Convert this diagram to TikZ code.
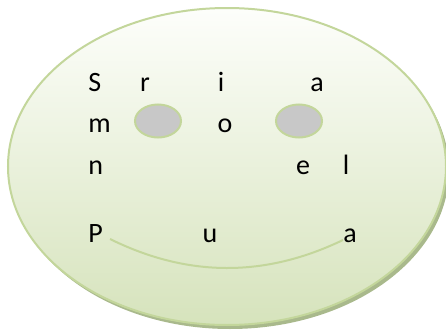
\documentclass[tikz,border=0pt]{standalone}
\usepackage{fontspec}
\setmainfont{Carlito}
\usepackage{tikz}
\usetikzlibrary{shapes.geometric, shadows, positioning}
\definecolor{facetop}{HTML}{FDFEFB}
\definecolor{facebottom}{HTML}{D6E3BC}
\definecolor{faceline}{HTML}{C3D69B}
\definecolor{faceshadow}{HTML}{A9B98C}
\definecolor{eyegray}{HTML}{C8C8C8}
\newcommand{\facefont}{\fontsize{21pt}{25pt}\selectfont}
\tikzstyle{face} = [ellipse, inner sep=0pt, minimum width=328.5pt, minimum height=237.75pt, draw=faceline, line width=1.5pt, top color=facetop, bottom color=facebottom, drop shadow={shadow xshift=2.25pt, shadow yshift=-3pt, fill=faceshadow, opacity=1}]
\tikzstyle{eye} = [ellipse, inner sep=0pt, minimum width=34.5pt, minimum height=24.75pt, draw=faceline, line width=1.5pt, fill=eyegray]
\tikzstyle{letter} = [inner sep=0pt, anchor=base, font=\facefont]
\tikzstyle{smile} = [draw=faceline, line width=1.5pt]

\begin{document}
\begin{tikzpicture}[x=0.75pt, y=-0.75pt]
			\useasboundingbox (0,0) rectangle (446,332);
			
			\node (face) [face] at (227,166.5) {};
			
			\node (eyeL) [eye] at (158,121) {};
			\node (eyeR) [eye] at (299,121) {};
			
			% first row
			\node (S) [letter, anchor=base west] at (88,91) {S};
			\node (r) [letter] at (145,91) {r};
			\node (i) [letter] at (221,91) {i};
			\node (a1) [letter] at (317,91) {a};
			
			% second row
			\node (m) [letter, anchor=base west] at (88,132) {m};
			\node (o) [letter] at (225,132) {o};
			
			% third row
			\node (n) [letter, anchor=base west] at (88,174) {n};
			\node (e) [letter] at (303,174) {e};
			\node (l) [letter] at (346,174) {l};
			
			% last row
			\node (P) [letter, anchor=base west] at (88,242) {P};
			\node (u) [letter] at (210,242) {u};
			\node (a2) [letter] at (350,242) {a};
			
			\coordinate (smileL) at (110,239);
			\coordinate (smileR) at (343,240);
			\draw [smile] (smileL) .. controls (188,277.5) and (265,277.5) .. (smileR);
			\end{tikzpicture}
\end{document}
